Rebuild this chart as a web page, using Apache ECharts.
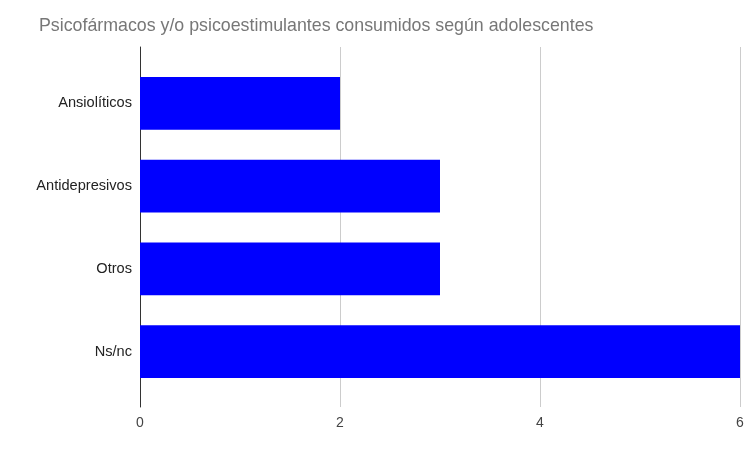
<!DOCTYPE html>
<html>
<head>
<meta charset="utf-8">
<script src="https://cdn.jsdelivr.net/npm/echarts@6/dist/echarts.min.js"></script>
<style>
  html, body { margin: 0; padding: 0; background: #fff; }
  #chart { width: 751px; height: 449px; }
</style>
</head>
<body>
<div id="chart"></div>
<script>
// Substances reported by adolescents and how many mentioned each
const categories = ['Ansiolíticos', 'Antidepresivos', 'Otros', 'Ns/nc'];
const counts = [2, 3, 3, 6];
const xTicks = { min: 0, max: 6, interval: 2 };
const titleText = 'Psicofármacos y/o psicoestimulantes consumidos según adolescentes';

const font = 'Liberation Sans, Arial, sans-serif';
const chart = echarts.init(document.getElementById('chart'), null, { renderer: 'canvas' });

chart.setOption({
  animation: false,
  backgroundColor: '#ffffff',
  title: {
    text: titleText,
    left: 34,
    top: 12,
    textStyle: { fontFamily: font, fontSize: 17.8, fontWeight: 'normal', color: '#777777' }
  },
  grid: [
    // frame grid: gridlines, axis line and x tick labels
    { left: 140, right: 11, top: 47, bottom: 42 },
    // bar grid: categories sit inset from the frame
    { left: 140, right: 11, top: 62, bottom: 56 }
  ],
  xAxis: [
    {
      gridIndex: 0, type: 'value',
      min: xTicks.min, max: xTicks.max, interval: xTicks.interval,
      axisLine: { show: false }, axisTick: { show: false },
      axisLabel: { margin: 9, fontFamily: font, fontSize: 14, color: '#444444' },
      splitLine: { show: true, lineStyle: { color: '#cccccc', width: 1 } }
    },
    {
      gridIndex: 1, type: 'value',
      min: xTicks.min, max: xTicks.max, interval: xTicks.interval,
      show: false
    }
  ],
  yAxis: [
    {
      gridIndex: 0, type: 'value', min: 0, max: 1,
      axisLine: { show: true, onZero: false, lineStyle: { color: '#333333', width: 1 } },
      axisTick: { show: false }, axisLabel: { show: false }, splitLine: { show: false }
    },
    {
      gridIndex: 1, type: 'category', data: categories, inverse: true,
      axisLine: { show: false }, axisTick: { show: false },
      axisLabel: { margin: 8, fontFamily: font, fontSize: 14.6, color: '#222222' },
      splitLine: { show: false }
    }
  ],
  series: [{
    type: 'bar',
    xAxisIndex: 1, yAxisIndex: 1,
    data: counts,
    barCategoryGap: '36%',
    itemStyle: { color: '#0000ff' }
  }]
});
</script>
</body>
</html>
